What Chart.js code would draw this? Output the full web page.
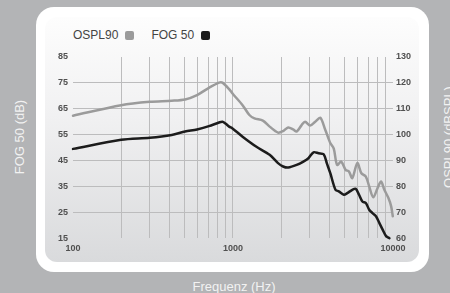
<!DOCTYPE html>
<html>
<head>
<meta charset="utf-8">
<script src="https://cdn.jsdelivr.net/npm/chart.js@4.4.0/dist/chart.umd.min.js"></script>
<style>
    html, body { margin: 0; padding: 0; }
    body { width: 450px; height: 293px; background: #b3b4b6; position: relative; overflow: hidden;
           font-family: "Liberation Sans", Arial, sans-serif; }
    .frame { position: absolute; left: 36px; top: 7px; width: 393px; height: 265px; background: #fff; border-radius: 18px; }
    .panel { position: absolute; left: 45px; top: 17px; width: 374px; height: 245px; border-radius: 12px;
             background: linear-gradient(to bottom, #fdfdfd 0%, #f1f1f2 40%, #d9dadc 100%); }
    .legend { position: absolute; left: 73px; top: 28px; font-size: 12px; color: #444; display: flex; align-items: center; }
    .legend span.box { display: inline-block; width: 9px; height: 9px; border-radius: 2px; margin-left: 7px; margin-right: 17px; }
    .title { position: absolute; color: #f2f2f2; font-size: 13px; white-space: nowrap; }
    .rot { transform: translate(-50%, -50%) rotate(-90deg); }
    #wrap { position: absolute; left: 0; top: 0; width: 450px; height: 293px; }
</style>
</head>
<body>
<div class="frame"></div>
<div class="panel"></div>
<div class="legend">
    <span>OSPL90</span><span class="box" style="background:#9b9b9b"></span>
    <span>FOG 50</span><span class="box" style="background:#1c1c1c"></span>
</div>
<div class="title rot" style="left:19px; top:137px;">FOG 50 (dB)</div>
<div class="title rot" style="left:448px; top:137px;">OSPL90 (dBSPL)</div>
<div class="title" style="left:234px; top:286px; transform: translate(-50%, -50%);">Frequenz (Hz)</div>
<div id="wrap"><canvas id="chart-freq" width="450" height="293"></canvas></div>
<script>
// frequency grid (Hz) and the ones that get a label
var gridFreqs = [100, 200, 300, 400, 500, 600, 700, 800, 900, 1000,
                 2000, 3000, 4000, 5000, 6000, 7000, 8000, 9000, 10000];
var labeledFreqs = [100, 1000, 10000];

// OSPL90 curve (right axis, dBSPL)
var freqOspl = [100, 200, 302, 414, 502, 596, 707, 818, 858, 946,
                993, 1148, 1266, 1362, 1537, 1695, 1912, 2057, 2213, 2381,
                2498, 2686, 2822, 3036, 3266, 3513, 3777, 4062, 4265, 4473,
                4742, 5057, 5305, 5567, 5986, 6346, 6765, 7101, 7526, 8014,
                8420, 8833, 9366, 9741, 9970];
var ospl90 = [107.3, 111.4, 112.7, 113.1, 113.6, 115.3, 118.1, 120.1, 120.1, 117.6,
              115.9, 111.4, 107.6, 106.3, 105.4, 103.1, 100.8, 101.4, 102.8, 102.0,
              101.2, 103.7, 105.0, 103.5, 105.0, 106.5, 101.8, 96.7, 94.6, 88.3,
              89.6, 86.4, 85.8, 83.2, 89.0, 85.1, 83.8, 80.0, 75.8, 79.4,
              81.9, 78.7, 75.5, 72.3, 68.5];

// FOG 50 curve (left axis, dB)
var freqFog = [100, 200, 302, 414, 502, 596, 707, 818, 858, 897,
               946, 993, 1148, 1394, 1695, 1912, 2057, 2213, 2498, 2754,
               2961, 3186, 3427, 3687, 3867, 4062, 4370, 4585, 4932, 5176,
               5567, 5848, 6137, 6441, 6765, 7101, 7450, 7828, 8214, 8618,
               9056, 9506];
var fog50 = [49.5, 53.0, 53.8, 54.9, 56.2, 57.0, 58.3, 59.7, 60.0, 59.3,
             58.1, 57.4, 54.2, 50.4, 47.2, 44.0, 42.7, 42.3, 43.3, 44.6,
             45.9, 48.2, 47.8, 47.4, 43.8, 40.0, 33.7, 33.1, 31.8, 32.4,
             33.7, 34.1, 31.8, 29.2, 28.6, 26.0, 24.7, 23.5, 20.9, 18.3,
             15.8, 15.0];

function toPoints(xs, ys){
    return xs.map(function(x, i){ return {x: x, y: ys[i]}; });
}

var tickFont = {family: '"Liberation Sans", Arial, sans-serif', size: 9, weight: 'bold'};
var gridColor = '#bcbcbd';

var config = {
    type: 'line',
    data: {
        datasets: [
            {
                label: 'FOG 50',
                data: toPoints(freqFog, fog50),
                borderColor: '#1c1c1c',
                borderWidth: 2.5,
                yAxisID: 'y',
                order: 0,
            },
            {
                label: 'OSPL90',
                data: toPoints(freqOspl, ospl90),
                borderColor: '#9b9b9b',
                borderWidth: 2.5,
                yAxisID: 'y1',
                order: 1,
            }
        ]
    },
    options: {
        responsive: false,
        animation: false,
        clip: 4,
        layout: {padding: {left: 53, right: 36, top: 57, bottom: 34}},
        elements: {
            point: {radius: 0},
            line: {tension: 0.3, borderCapStyle: 'round', borderJoinStyle: 'round'}
        },
        plugins: {
            legend: {display: false},
            title: {display: false},
            tooltip: {enabled: false}
        },
        scales: {
            x: {
                type: 'logarithmic',
                min: 100,
                max: 10000,
                afterBuildTicks: function(axis){
                    axis.ticks = gridFreqs.map(function(v){ return {value: v}; });
                },
                ticks: {
                    autoSkip: false,
                    maxRotation: 0,
                    padding: 5,
                    color: '#505050',
                    font: tickFont,
                    callback: function(value){
                        return labeledFreqs.indexOf(value) >= 0 ? String(value) : '';
                    }
                },
                grid: {
                    drawTicks: false,
                    color: function(ctx){
                        if (ctx.tick && (ctx.tick.value === 100 || ctx.tick.value === 10000)) return 'rgba(0,0,0,0)';
                        return gridColor;
                    }
                },
                border: {display: false}
            },
            y: {
                type: 'linear',
                position: 'left',
                min: 15,
                max: 85,
                ticks: {stepSize: 10, padding: 5, color: '#505050', font: tickFont},
                grid: {
                    drawTicks: false,
                    color: function(ctx){
                        if (ctx.tick && (ctx.tick.value === 15 || ctx.tick.value === 85)) return 'rgba(0,0,0,0)';
                        return gridColor;
                    }
                },
                border: {display: false}
            },
            y1: {
                type: 'linear',
                position: 'right',
                min: 60,
                max: 130,
                ticks: {stepSize: 10, padding: 3, color: '#505050', font: tickFont},
                grid: {drawOnChartArea: false, drawTicks: false},
                border: {display: false}
            }
        }
    }
};

var freqChart = new Chart(document.getElementById('chart-freq'), config);
</script>
</body>
</html>
